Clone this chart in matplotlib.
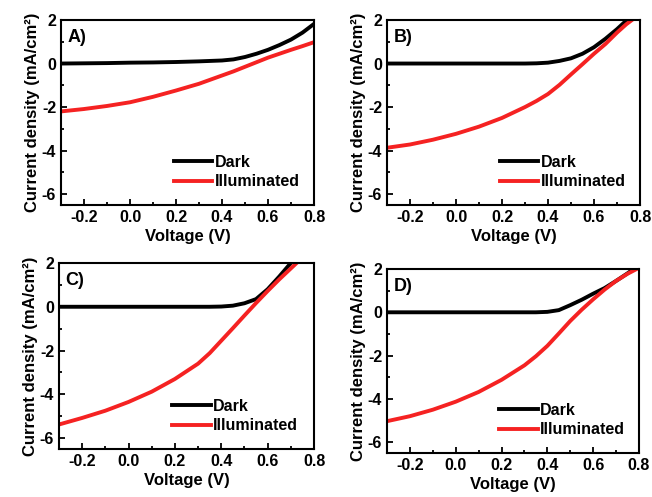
import matplotlib
matplotlib.use('Agg')
import matplotlib.pyplot as plt
from matplotlib.ticker import MultipleLocator

# data
V_A = [-0.3, -0.2, -0.1, 0.0, 0.1, 0.2, 0.3, 0.4, 0.45, 0.5, 0.55, 0.6, 0.65, 0.7, 0.75, 0.8]
dark_A = [0.0, 0.01, 0.02, 0.04, 0.05, 0.07, 0.1, 0.14, 0.19, 0.3, 0.45, 0.63, 0.85, 1.1, 1.42, 1.82]
illum_A = [-2.2, -2.09, -1.95, -1.78, -1.53, -1.24, -0.93, -0.55, -0.36, -0.15, 0.06, 0.27, 0.45, 0.63, 0.8, 0.98]

V_B = [-0.3, -0.2, -0.1, 0.0, 0.1, 0.2, 0.3, 0.35, 0.4, 0.45, 0.5, 0.55, 0.6, 0.65, 0.7, 0.74, 0.765]
dark_B = [0.0, 0.0, 0.0, 0.0, 0.0, 0.0, 0.0, 0.01, 0.04, 0.12, 0.24, 0.45, 0.75, 1.14, 1.58, 1.97, 2.2]
illum_B = [-3.87, -3.72, -3.5, -3.23, -2.9, -2.5, -2.0, -1.72, -1.4, -0.98, -0.5, -0.03, 0.45, 0.9, 1.42, 1.8, 2.0]

V_C = [-0.3, -0.2, -0.1, 0.0, 0.1, 0.2, 0.3, 0.35, 0.4, 0.45, 0.5, 0.55, 0.6, 0.65, 0.7, 0.73]
dark_C = [0.0, 0.0, 0.0, 0.0, 0.0, 0.0, 0.0, 0.0, 0.01, 0.05, 0.16, 0.35, 0.8, 1.38, 2.0, 2.4]
illum_C = [-5.38, -5.08, -4.75, -4.35, -3.88, -3.3, -2.6, -2.12, -1.55, -0.98, -0.4, 0.17, 0.72, 1.25, 1.75, 2.05]

V_D = [-0.3, -0.2, -0.1, 0.0, 0.1, 0.2, 0.3, 0.35, 0.4, 0.45, 0.5, 0.55, 0.6, 0.65, 0.7, 0.75, 0.79]
dark_D = [0.0, 0.0, 0.0, 0.0, 0.0, 0.0, 0.0, 0.0, 0.02, 0.1, 0.33, 0.58, 0.86, 1.12, 1.45, 1.8, 2.1]
illum_D = [-5.03, -4.8, -4.5, -4.13, -3.68, -3.12, -2.45, -2.03, -1.55, -0.98, -0.4, 0.12, 0.6, 1.05, 1.45, 1.78, 2.0]

panels = [('A)', V_A, dark_A, illum_A),
          ('B)', V_B, dark_B, illum_B),
          ('C)', V_C, dark_C, illum_C),
          ('D)', V_D, dark_D, illum_D)]

# axes boxes in pixels: left, right, top, bottom
boxes = [(61, 314, 20, 205), (387, 640, 20, 205),
         (59, 314, 263, 449), (387, 639, 269, 453)]

plt.rcParams['font.family'] = ['Liberation Sans', 'DejaVu Sans']
plt.rcParams['font.weight'] = 'bold'

W, H = 652, 497
fig = plt.figure(figsize=(W / 100., H / 100.), dpi=100)

for (tag, V, dark, illum), (l, r, t, b) in zip(panels, boxes):
    ax = fig.add_axes([l / W, 1 - b / H, (r - l) / W, (b - t) / H])
    ax.plot(V, dark, color='black', lw=2.8, label='Dark')
    ax.plot(V, illum, color='#f52222', lw=2.8, label='Illuminated')
    ax.set_xlim(-0.3, 0.8)
    ax.set_ylim(-6.5, 2)
    ax.xaxis.set_minor_locator(MultipleLocator(0.1))
    ax.yaxis.set_major_locator(MultipleLocator(2))
    ax.yaxis.set_minor_locator(MultipleLocator(1))
    ax.tick_params(which='both', direction='in', width=1.3, labelsize=11.5)
    ax.tick_params(which='major', length=4)
    ax.tick_params(which='minor', length=2.5)
    for s in ax.spines.values():
        s.set_linewidth(1.5)
    ax.set_xticks([-0.2, 0.0, 0.2, 0.4, 0.6, 0.8])
    ax.set_xticklabels(['-0.2', '0.0', '0.2', '0.4', '0.6', '0.8'])
    ax.set_yticklabels([str(int(v)) for v in ax.get_yticks()])
    ax.set_xlabel('Voltage (V)', fontsize=12, fontweight='bold', labelpad=3)
    ax.set_ylabel('Current density (mA/cm²)', fontsize=12, fontweight='bold', labelpad=1)
    ax.text(0.025, 0.95, tag, transform=ax.transAxes, fontsize=13,
            fontweight='bold', va='top', ha='left')
    ax.legend(loc='lower left', bbox_to_anchor=(0.42, 0.05), frameon=False,
              fontsize=11.5, handlelength=2.4, handletextpad=0.15,
              labelspacing=0.3, borderaxespad=0)

fig.savefig('out.png', dpi=100)
